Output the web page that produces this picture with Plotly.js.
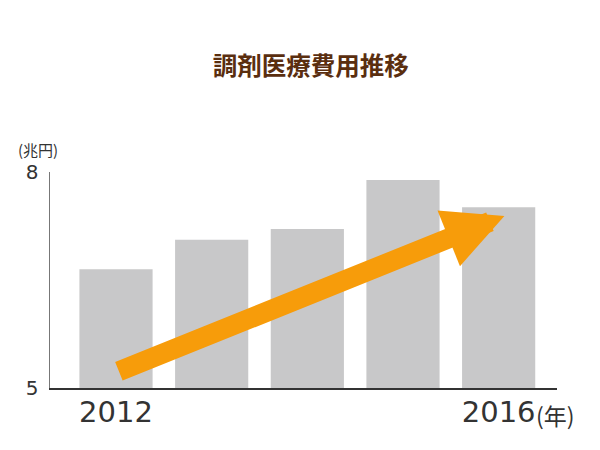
<!DOCTYPE html>
<html>
<head>
<meta charset="utf-8">
<script src="https://cdn.plot.ly/plotly-3.0.1.min.js"></script>
<style>
  html, body { margin: 0; padding: 0; background: #fff; }
  #chart { width: 600px; height: 450px; }
</style>
</head>
<body>
<div id="chart"></div>
<script>
// 調剤医療費 (兆円)
var years = [2012, 2013, 2014, 2015, 2016];
var costs = [6.65, 7.06, 7.21, 7.89, 7.51];
var tickYears = [2012, 2016];
var tickLabels = ["2012", "2016"];

var numFont = "'DejaVu Sans', sans-serif";
var jpFont = "'Noto Sans CJK JP', sans-serif";

var bars = {
  type: "bar",
  x: years.map(function (y) { return y - years[0]; }),
  y: costs,
  marker: { color: "#c8c8c9" },
  width: 0.765,
  hoverinfo: "skip"
};

var layout = {
  width: 600,
  height: 450,
  margin: { l: 50, r: 43, t: 172, b: 62 },
  paper_bgcolor: "#ffffff",
  plot_bgcolor: "#ffffff",
  showlegend: false,
  title: {
    text: "<b>調剤医療費用推移</b>",
    font: { family: jpFont, size: 24.5, color: "#5a2e0f" },
    x: 0.518,
    xanchor: "center",
    y: 1 - 66 / 450,
    yanchor: "middle",
    yref: "container"
  },
  xaxis: {
    range: [-0.69, 4.61],
    tickvals: tickYears.map(function (y) { return y - years[0]; }),
    ticktext: tickLabels,
    ticks: "",
    ticklabelstandoff: -2,
    showgrid: false,
    zeroline: false,
    showline: true,
    linecolor: "#333333",
    linewidth: 1.5,
    tickfont: { family: numFont, size: 29, color: "#333333" },
    fixedrange: true
  },
  yaxis: {
    range: [5, 8],
    tickvals: [5, 8],
    ticktext: ["5", "8"],
    ticks: "",
    ticklabelstandoff: 6,
    showgrid: false,
    zeroline: false,
    showline: true,
    linecolor: "#777777",
    linewidth: 1.5,
    tickfont: { family: numFont, size: 20, color: "#333333" },
    fixedrange: true
  },
  annotations: [
    {
      // trend arrow
      x: 4.06, y: 7.39, xref: "x", yref: "y",
      text: "",
      showarrow: true,
      arrowhead: 2,
      arrowsize: 0.6,
      arrowwidth: 20,
      arrowcolor: "#f79c0a",
      standoff: 0,
      ax: -387, ay: 156
    },
    {
      text: "(兆円)",
      xref: "paper", yref: "paper",
      x: 0, y: 1,
      xanchor: "center", yanchor: "middle",
      xshift: -12, yshift: 23,
      showarrow: false,
      font: { family: jpFont, size: 15, color: "#333333" }
    },
    {
      text: "(年)",
      xref: "x", yref: "paper",
      x: 4.37, y: 0,
      xanchor: "left", yanchor: "top",
      yshift: -8,
      showarrow: false,
      font: { family: jpFont, size: 23, color: "#333333" }
    }
  ]
};

Plotly.newPlot("chart", [bars], layout, { staticPlot: true });
</script>
</body>
</html>
